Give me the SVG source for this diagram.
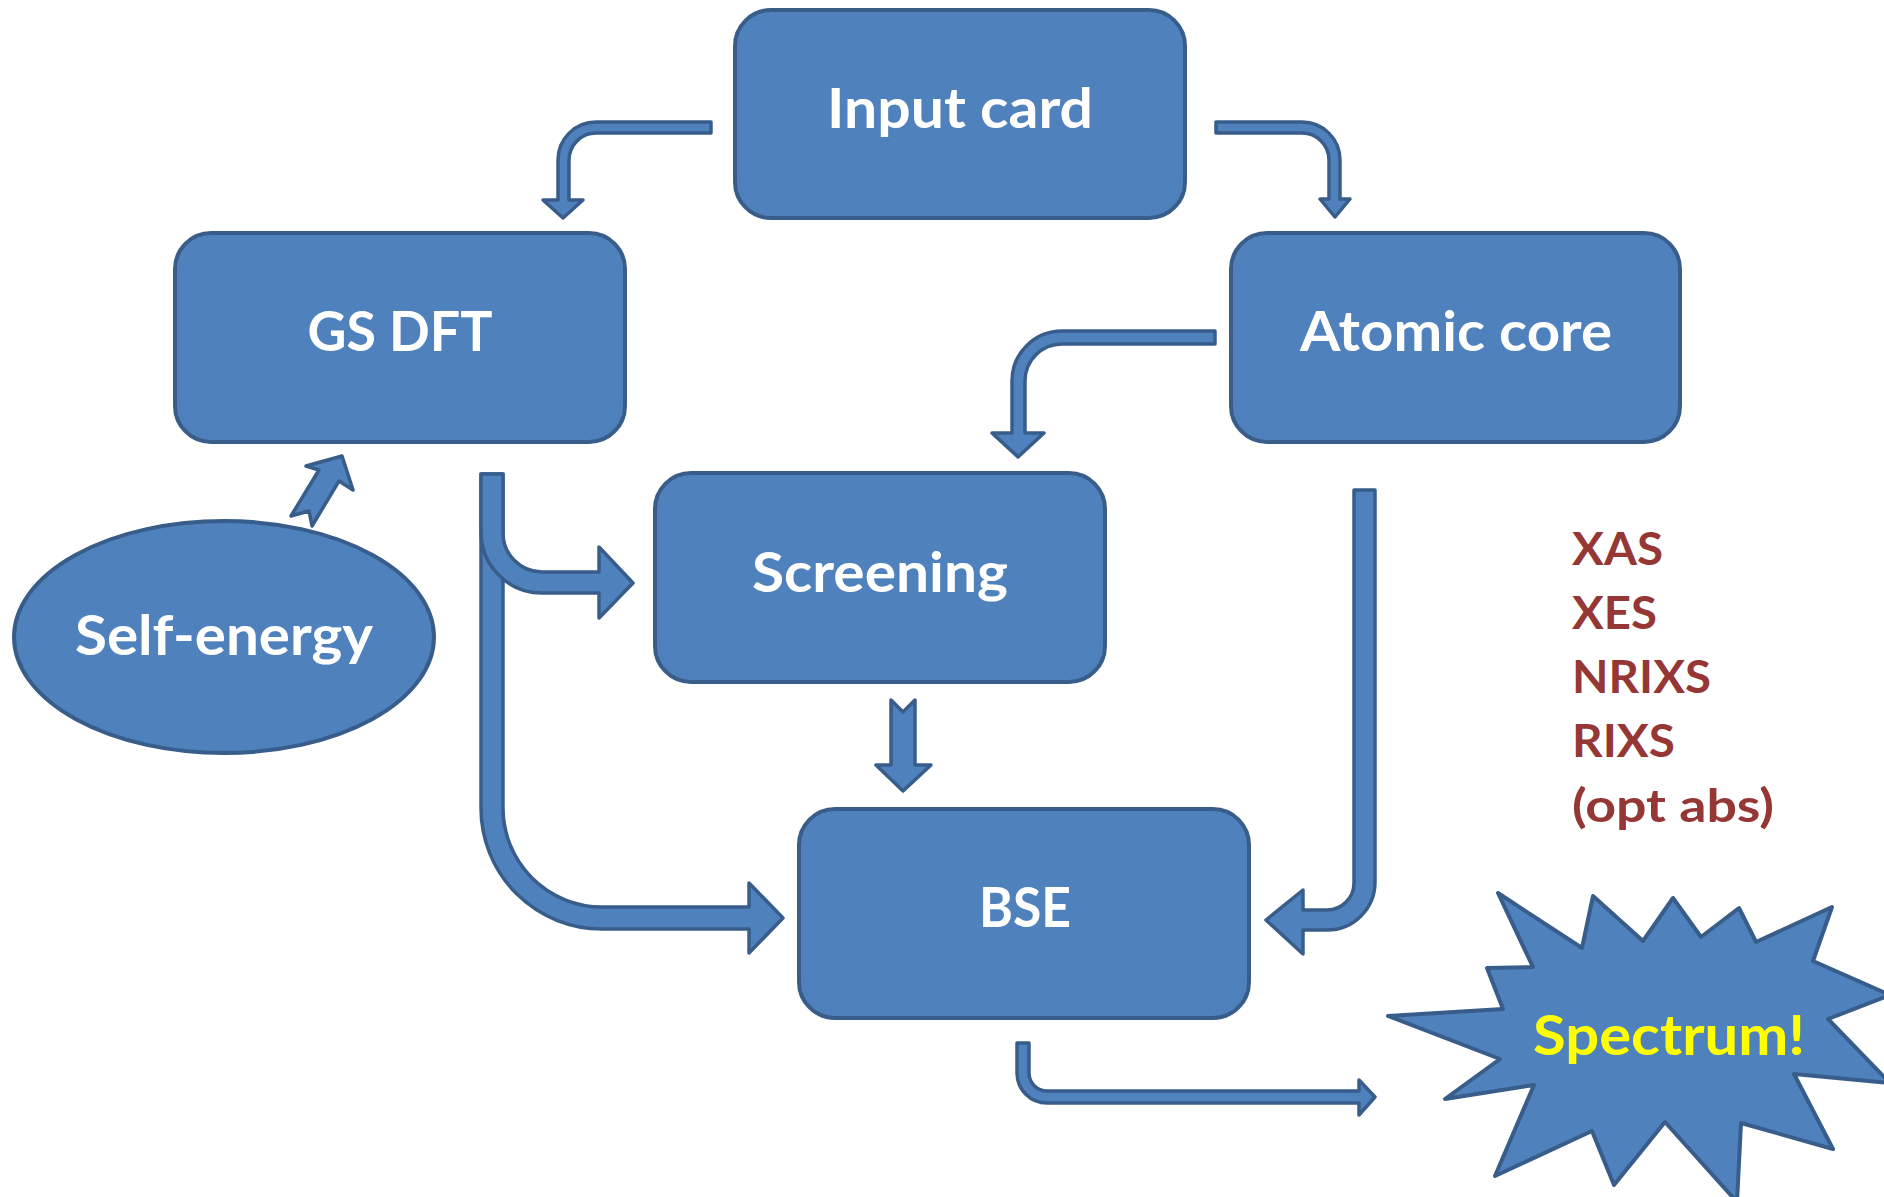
<svg xmlns="http://www.w3.org/2000/svg" width="1884" height="1197" viewBox="0 0 1884 1197">
<style>
.box{fill:#4F81BD;stroke:#385D8A;stroke-width:4}
.arr{fill:#4F81BD;stroke:#385D8A;stroke-width:3.5;stroke-linejoin:round}
.lbl{font-family:Lato,"Open Sans","Liberation Sans",sans-serif;font-weight:bold;font-size:56px;fill:#FFFFFF;text-anchor:middle}
.red{font-family:Lato,"Open Sans","Liberation Sans",sans-serif;font-weight:bold;font-size:46px;fill:#953735}
</style>
<rect width="1884" height="1197" fill="#FFFFFF"/>
<g id="connectors">
<path class="arr" d="M 711 122 L 596 122 A 38 38 0 0 0 558 160 L 558 200 L 543 200 L 563 218 L 583 200 L 569 200 L 569 160 A 27 27 0 0 1 596 133 L 711 133 Z"/>
<path class="arr" d="M 1216 122 L 1302 122 A 38 38 0 0 1 1340 160 L 1340 199 L 1350 199 L 1335 217 L 1320 199 L 1329 199 L 1329 160 A 27 27 0 0 0 1302 133 L 1216 133 Z"/>
<path class="arr" d="M 1215 331 L 1062 331 A 50 50 0 0 0 1012 381 L 1012 433 L 992 433 L 1018 457 L 1044 433 L 1025 433 L 1025 381 A 37 37 0 0 1 1062 344 L 1215 344 Z"/>
<path class="arr" d="M 1354 490 L 1375 490 L 1375 882 A 48 48 0 0 1 1327 930 L 1303 930 L 1303 954 L 1266 920 L 1303 890 L 1303 910 L 1327 910 A 27 27 0 0 0 1354 883 Z"/>
<path class="arr" d="M 481 474 L 481 808 A 121 121 0 0 0 602 929 L 749 929 L 749 953 L 783 918 L 749 883 L 749 907 L 602 907 A 99 99 0 0 1 503 808 L 503 474 Z"/>
<path class="arr" d="M 481 474 L 481 532 A 61 61 0 0 0 542 593 L 599 593 L 599 618 L 633 583 L 599 547 L 599 572 L 542 572 A 39 39 0 0 1 503 533 L 503 474 Z"/>
<path class="arr" d="M 891 700 L 903 712 L 915 700 L 915 765 L 931 765 L 903 791 L 876 765 L 891 765 Z"/>
<polygon class="arr" points="342,456 353,490 339,481 312,526 309,511 291,516 319,470 306,466"/>
<path class="arr" d="M 1017 1043 L 1029 1043 L 1029 1073 A 18 18 0 0 0 1047 1091 L 1359 1091 L 1359 1080 L 1375 1097 L 1359 1115 L 1359 1103 L 1047 1103 A 30 30 0 0 1 1017 1073 Z"/>
</g>
<g id="input-card">
<rect class="box" x="735" y="10" width="450" height="208" rx="36" ry="36"/>
<text class="lbl" x="960" y="128" textLength="266" lengthAdjust="spacingAndGlyphs">Input card</text>
</g>
<g id="gs-dft">
<rect class="box" x="175" y="233" width="450" height="209" rx="36" ry="36"/>
<text class="lbl" x="400" y="351" textLength="185" lengthAdjust="spacingAndGlyphs">GS DFT</text>
</g>
<g id="atomic-core">
<rect class="box" x="1231" y="233" width="449" height="209" rx="36" ry="36"/>
<text class="lbl" x="1456" y="351" textLength="312" lengthAdjust="spacingAndGlyphs">Atomic core</text>
</g>
<g id="screening">
<rect class="box" x="655" y="473" width="450" height="209" rx="36" ry="36"/>
<text class="lbl" x="880" y="592" textLength="256" lengthAdjust="spacingAndGlyphs">Screening</text>
</g>
<g id="self-energy">
<ellipse class="box" cx="224" cy="637" rx="210" ry="116"/>
<text class="lbl" x="224" y="655" textLength="298" lengthAdjust="spacingAndGlyphs">Self-energy</text>
</g>
<g id="bse">
<rect class="box" x="799" y="809" width="450" height="209" rx="36" ry="36"/>
<text class="lbl" x="1025" y="927" textLength="92" lengthAdjust="spacingAndGlyphs">BSE</text>
</g>
<g id="spectrum">
<polygon class="box" stroke-linejoin="round" points="1498,893 1582,948 1593,896 1643,941 1673,898 1701,937 1739,908 1756,942 1832,907 1813,961 1890,995 1828,1019 1890,1083 1794,1074 1833,1149 1741,1123 1737,1202 1665,1122 1614,1185 1592,1131 1495,1176 1534,1085 1445,1099 1500,1059 1388,1016 1503,1009 1487,968 1533,967"/>
<text class="lbl" x="1669" y="1055" fill="#FFFF00" style="fill:#FFFF00" textLength="272" lengthAdjust="spacingAndGlyphs">Spectrum!</text>
</g>
<g id="spectra-list">
<text class="red" x="1572" y="565" textLength="91" lengthAdjust="spacingAndGlyphs">XAS</text>
<text class="red" x="1572" y="629" textLength="85" lengthAdjust="spacingAndGlyphs">XES</text>
<text class="red" x="1572" y="693" textLength="139" lengthAdjust="spacingAndGlyphs">NRIXS</text>
<text class="red" x="1572" y="757" textLength="103" lengthAdjust="spacingAndGlyphs">RIXS</text>
<text class="red" x="1572" y="822" textLength="202" lengthAdjust="spacingAndGlyphs">(opt abs)</text>
</g>
</svg>
